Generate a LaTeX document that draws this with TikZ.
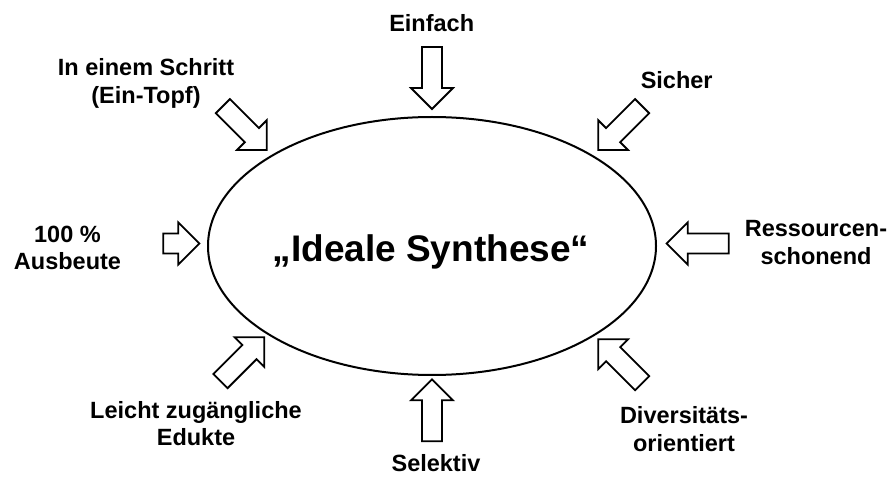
\documentclass[tikz,border=0pt]{standalone}
\usepackage{fontspec}
\setmainfont{Liberation Sans}
\tikzset{
  lbl/.style={font=\bfseries\fontsize{23.5}{27.6}\selectfont, inner sep=0pt, align=center, anchor=base},
  blk/.style={draw=black, line width=1.8pt, fill=white, line join=miter},
  ell/.style={draw=black, line width=2pt}
}
% block arrow: #1 = tip coordinate, #2 = angle, #3 = length
\newcommand{\blockarrow}[3]{%
  \begin{scope}[shift={#1}, rotate=#2]
    \draw[blk] (0,0) -- (-21,21) -- (-21,10) -- (-#3,10) -- (-#3,-10) -- (-21,-10) -- (-21,-21) -- cycle;
  \end{scope}}
\begin{document}
\begin{tikzpicture}[x=1pt, y=1pt]
\useasboundingbox (0,0) rectangle (892,477);
\draw[ell] (432,231) ellipse [x radius=224, y radius=129];
\node[font=\bfseries\fontsize{37}{44}\selectfont, inner sep=0pt, anchor=base] (main) at (431,215) {„Ideale Synthese“};

\blockarrow{(432,368)}{-90}{62}
\blockarrow{(432,97.7)}{90}{62}
\blockarrow{(199.3,233.5)}{0}{36}
\blockarrow{(666.7,233.5)}{180}{62}
\blockarrow{(266.7,327)}{-45}{62}
\blockarrow{(598.3,327)}{-135}{62}
\blockarrow{(264.3,139.7)}{45}{62}
\blockarrow{(598.3,137.7)}{135}{62}

\node[lbl] (einfach) at (431.7,445.3) {Einfach};
\node[lbl] (schritt) at (146,373.7) {In einem Schritt\\(Ein-Topf)};
\node[lbl] (sicher) at (676.7,388.7) {Sicher};
\node[lbl] (ausbeute) at (67.5,207) {100 \%\\Ausbeute};
\node[lbl] (ress) at (816,212.7) {Ressourcen-\\schonend};
\node[lbl] (edukte) at (196,31) {Leicht zugängliche\\Edukte};
\node[lbl] (divers) at (684,26) {Diversitäts-\\orientiert};
\node[lbl] (selektiv) at (436,5.3) {Selektiv};
\end{tikzpicture}
\end{document}
